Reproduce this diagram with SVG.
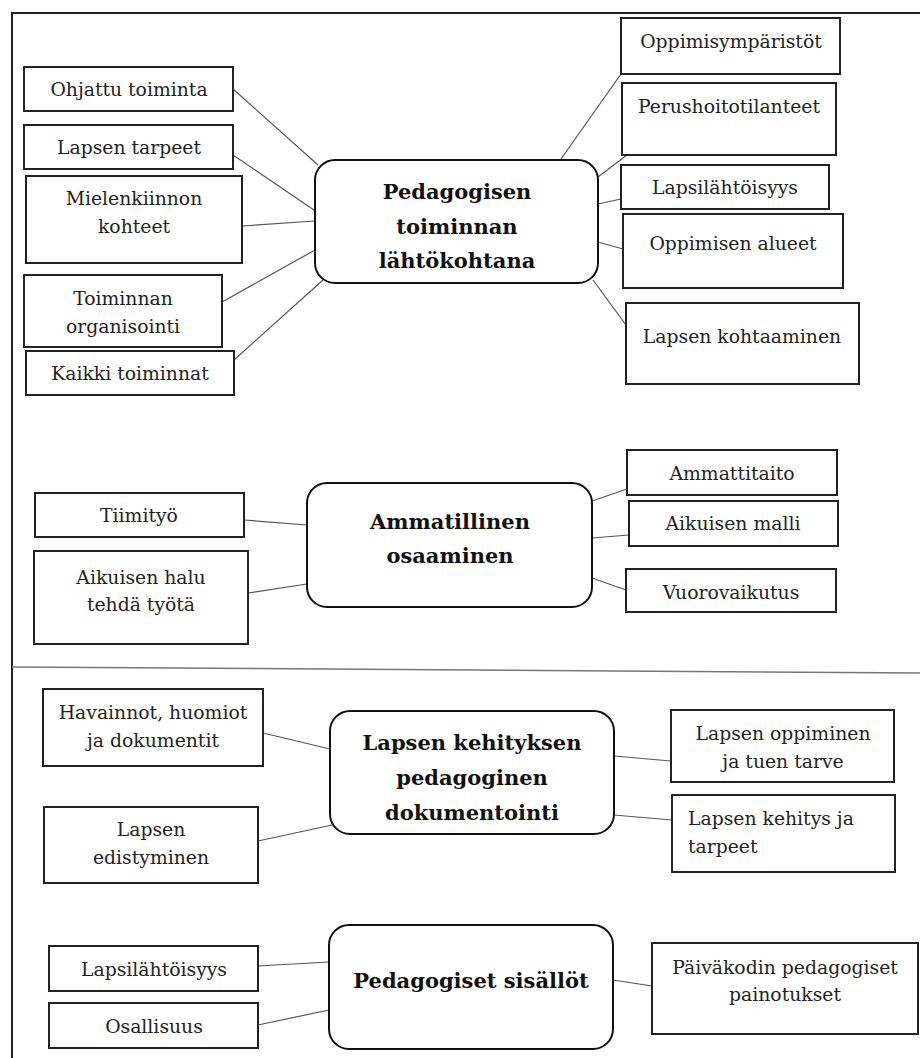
<svg xmlns="http://www.w3.org/2000/svg" width="920" height="1058" viewBox="0 0 920 1058">
<style>
.box{fill:#fff;stroke:#222;stroke-width:2}
.hub{fill:#fff;stroke:#111;stroke-width:2}
.t{font-family:"DejaVu Serif","Liberation Serif",serif;font-size:18.8px;fill:#222;text-anchor:middle}
.h{font-family:"DejaVu Serif","Liberation Serif",serif;font-size:21px;font-weight:bold;fill:#111;text-anchor:middle}
.c line{stroke:#555;stroke-width:1.2}
.frame{stroke:#222;stroke-width:2;fill:none}
</style>
<rect width="920" height="1058" fill="#fff"/>
<g id="frame">
<path class="frame" d="M12,1058 V13 H920"/>
<line x1="12" y1="667" x2="920" y2="673" stroke="#777" stroke-width="1.5"/>
</g>
<g class="c" id="connectors">
<line x1="233" y1="89" x2="318" y2="165"/>
<line x1="233" y1="155" x2="314" y2="210"/>
<line x1="242" y1="226" x2="315" y2="221"/>
<line x1="222" y1="302" x2="315" y2="250"/>
<line x1="234" y1="360" x2="323" y2="280"/>
<line x1="561" y1="159" x2="621" y2="74"/>
<line x1="598" y1="177" x2="627" y2="155"/>
<line x1="598" y1="204" x2="621" y2="199"/>
<line x1="598" y1="242" x2="623" y2="249"/>
<line x1="593" y1="280" x2="626" y2="325"/>
<line x1="244" y1="520" x2="307" y2="525"/>
<line x1="248" y1="593" x2="307" y2="584"/>
<line x1="592" y1="501" x2="627" y2="489"/>
<line x1="592" y1="538" x2="629" y2="535"/>
<line x1="592" y1="578" x2="626" y2="590"/>
<line x1="263" y1="733" x2="330" y2="749"/>
<line x1="258" y1="841" x2="332" y2="825"/>
<line x1="614" y1="756" x2="671" y2="761"/>
<line x1="614" y1="815" x2="672" y2="820"/>
<line x1="258" y1="966" x2="329" y2="962"/>
<line x1="258" y1="1025" x2="329" y2="1010"/>
<line x1="613" y1="980" x2="652" y2="986"/>
</g>
<g id="hub1"><rect class="hub" x="315" y="160" width="283" height="123" rx="20"/>
<text class="h" x="457" y="199">Pedagogisen</text><text class="h" x="457" y="234">toiminnan</text><text class="h" x="457" y="268">lähtökohtana</text></g>
<g id="n-ohjattu"><rect class="box" x="24" y="67" width="209" height="44"/><text class="t" x="129" y="96">Ohjattu toiminta</text></g>
<g id="n-tarpeet"><rect class="box" x="24" y="125" width="209" height="44"/><text class="t" x="129" y="154">Lapsen tarpeet</text></g>
<g id="n-mielenkiinnon"><rect class="box" x="26" y="176" width="216" height="87"/><text class="t" x="134" y="205">Mielenkiinnon</text><text class="t" x="134" y="233">kohteet</text></g>
<g id="n-toiminnan"><rect class="box" x="24" y="275" width="198" height="72"/><text class="t" x="123" y="305">Toiminnan</text><text class="t" x="123" y="333">organisointi</text></g>
<g id="n-kaikki"><rect class="box" x="26" y="351" width="208" height="44"/><text class="t" x="130" y="380">Kaikki toiminnat</text></g>
<g id="n-oppimisymparistot"><rect class="box" x="621" y="18" width="219" height="56"/><text class="t" x="731" y="48">Oppimisympäristöt</text></g>
<g id="n-perushoito"><rect class="box" x="622" y="83" width="214" height="72"/><text class="t" x="729" y="113">Perushoitotilanteet</text></g>
<g id="n-lapsilahtoisyys1"><rect class="box" x="621" y="165" width="208" height="44"/><text class="t" x="725" y="194">Lapsilähtöisyys</text></g>
<g id="n-oppimisen"><rect class="box" x="623" y="214" width="220" height="74"/><text class="t" x="733" y="250">Oppimisen alueet</text></g>
<g id="n-kohtaaminen"><rect class="box" x="626" y="303" width="233" height="81"/><text class="t" x="742" y="343">Lapsen kohtaaminen</text></g>
<g id="hub2"><rect class="hub" x="307" y="483" width="285" height="124" rx="20"/>
<text class="h" x="450" y="529">Ammatillinen</text><text class="h" x="450" y="563">osaaminen</text></g>
<g id="n-tiimityo"><rect class="box" x="35" y="493" width="209" height="44"/><text class="t" x="139" y="522">Tiimityö</text></g>
<g id="n-halu"><rect class="box" x="34" y="551" width="214" height="93"/><text class="t" x="141" y="584">Aikuisen halu</text><text class="t" x="141" y="611">tehdä työtä</text></g>
<g id="n-ammattitaito"><rect class="box" x="627" y="450" width="210" height="45"/><text class="t" x="732" y="480">Ammattitaito</text></g>
<g id="n-malli"><rect class="box" x="629" y="501" width="209" height="45"/><text class="t" x="733" y="530">Aikuisen malli</text></g>
<g id="n-vuorovaikutus"><rect class="box" x="626" y="569" width="210" height="43"/><text class="t" x="731" y="599">Vuorovaikutus</text></g>
<g id="hub3"><rect class="hub" x="330" y="711" width="284" height="123" rx="20"/>
<text class="h" x="472" y="750">Lapsen kehityksen</text><text class="h" x="472" y="785">pedagoginen</text><text class="h" x="472" y="820">dokumentointi</text></g>
<g id="n-havainnot"><rect class="box" x="43" y="689" width="220" height="77"/><text class="t" x="153" y="719">Havainnot, huomiot</text><text class="t" x="153" y="747">ja dokumentit</text></g>
<g id="n-edistyminen"><rect class="box" x="44" y="807" width="214" height="76"/><text class="t" x="151" y="836">Lapsen</text><text class="t" x="151" y="864">edistyminen</text></g>
<g id="n-oppiminen"><rect class="box" x="671" y="710" width="223" height="72"/><text class="t" x="783" y="740">Lapsen oppiminen</text><text class="t" x="783" y="768">ja tuen tarve</text></g>
<g id="n-kehitys"><rect class="box" x="672" y="795" width="223" height="77"/><text class="t" x="688" y="825" style="text-anchor:start">Lapsen kehitys ja</text><text class="t" x="688" y="853" style="text-anchor:start">tarpeet</text></g>
<g id="hub4"><rect class="hub" x="329" y="925" width="284" height="124" rx="20"/>
<text class="h" x="471" y="988">Pedagogiset sisällöt</text></g>
<g id="n-lapsilahtoisyys2"><rect class="box" x="49" y="946" width="209" height="45"/><text class="t" x="154" y="976">Lapsilähtöisyys</text></g>
<g id="n-osallisuus"><rect class="box" x="49" y="1003" width="209" height="45"/><text class="t" x="154" y="1033">Osallisuus</text></g>
<g id="n-painotukset"><rect class="box" x="652" y="943" width="266" height="91"/><text class="t" x="785" y="974">Päiväkodin pedagogiset</text><text class="t" x="785" y="1001">painotukset</text></g>
</svg>
